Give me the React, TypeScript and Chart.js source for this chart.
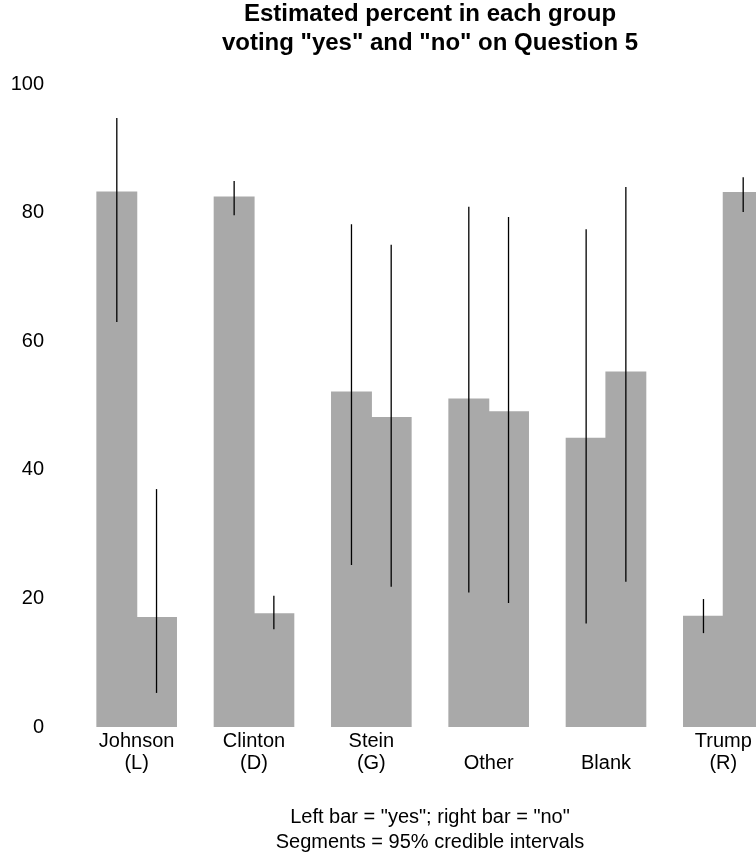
import React, { useEffect, useRef } from "react";
import { Chart, registerables } from "chart.js";

Chart.register(...registerables);

// ---- data ----
const groups: string[][] = [
  ["Johnson", "(L)"],
  ["Clinton", "(D)"],
  ["Stein", "(G)"],
  ["", "Other"],
  ["", "Blank"],
  ["Trump", "(R)"],
];
const yesPct = [83.2, 82.4, 52.1, 51.0, 44.9, 17.2];
const noPct = [17.0, 17.6, 48.1, 49.0, 55.2, 83.1];
const yesLow = [63.0, 79.6, 25.2, 20.9, 16.1, 14.6];
const yesHigh = [94.7, 84.9, 78.2, 80.9, 77.4, 19.9];
const noLow = [5.3, 15.2, 21.8, 19.3, 22.6, 80.1];
const noHigh = [37.0, 20.4, 75.0, 79.3, 84.0, 85.5];
const yTicks = [0, 20, 40, 60, 80, 100];
const titleLines = ["Estimated percent in each group", 'voting "yes" and "no" on Question 5'];
const noteLines = ['Left bar = "yes"; right bar = "no"', "Segments = 95% credible intervals"];

const FONT = '"Liberation Sans", Arial, Helvetica, sans-serif';
const BAR_COLOR = "#A9A9A9";

const intervalPlugin = {
  id: "intervals",
  afterDatasetsDraw(chart: any) {
    const ctx = chart.ctx;
    const ys = chart.scales.y;
    const sets = [
      [yesLow, yesHigh],
      [noLow, noHigh],
    ];
    ctx.save();
    ctx.strokeStyle = "#000";
    ctx.lineWidth = 1.3;
    sets.forEach(([lo, hi], di) => {
      const meta = chart.getDatasetMeta(di);
      meta.data.forEach((bar: any, i: number) => {
        ctx.beginPath();
        ctx.moveTo(bar.x, ys.getPixelForValue(lo[i]));
        ctx.lineTo(bar.x, ys.getPixelForValue(hi[i]));
        ctx.stroke();
      });
    });
    ctx.restore();
  },
};

const textPlugin = {
  id: "texts",
  afterDraw(chart: any) {
    const ctx = chart.ctx;
    const ca = chart.chartArea;
    const cx = (ca.left + ca.right) / 2;
    ctx.save();
    ctx.fillStyle = "#000";
    ctx.textAlign = "center";
    ctx.textBaseline = "alphabetic";
    ctx.font = `bold 24px ${FONT}`;
    ctx.fillText(titleLines[0], cx, 21);
    ctx.fillText(titleLines[1], cx, 50);
    ctx.font = `20px ${FONT}`;
    ctx.fillText(noteLines[0], cx, 823);
    ctx.fillText(noteLines[1], cx, 848);
    ctx.restore();
  },
};

export default function App() {
  const ref = useRef<HTMLCanvasElement | null>(null);

  useEffect(() => {
    if (!ref.current) return;
    const common = {
      backgroundColor: BAR_COLOR,
      borderWidth: 0,
      inflateAmount: 0.6,
      categoryPercentage: 0.677,
      barPercentage: 1,
    };
    const chart = new Chart(ref.current, {
      type: "bar",
      data: {
        labels: groups,
        datasets: [
          { label: "yes", data: yesPct, ...common },
          { label: "no", data: noPct, ...common },
        ],
      },
      options: {
        responsive: false,
        animation: false,
        devicePixelRatio: 1,
        layout: { padding: { top: 84, left: 0, right: 0, bottom: 0 } },
        plugins: {
          legend: { display: false },
          tooltip: { enabled: false },
          title: { display: false },
        },
        scales: {
          x: {
            type: "category",
            offset: true,
            grid: { display: false, drawTicks: false },
            border: { display: false },
            ticks: {
              color: "#000",
              font: { family: FONT, size: 20, lineHeight: 1.1 },
              padding: 3,
              maxRotation: 0,
              minRotation: 0,
              autoSkip: false,
            },
            afterFit: (s: any) => {
              s.height = 125;
            },
          },
          y: {
            min: 0,
            max: 100,
            grid: { display: false, drawTicks: false },
            border: { display: false },
            ticks: {
              color: "#000",
              font: { family: FONT, size: 20 },
              padding: 34,
            },
            afterBuildTicks: (s: any) => {
              s.ticks = yTicks.map((v) => ({ value: v }));
            },
            afterFit: (s: any) => {
              s.width = 78;
            },
          },
        },
      } as any,
      plugins: [intervalPlugin, textPlugin],
    });
    return () => chart.destroy();
  }, []);

  return (
    <div
      style={{
        position: "fixed",
        left: 0,
        top: 0,
        width: 756,
        height: 852,
        overflow: "hidden",
        background: "#fff",
      }}
    >
      <canvas ref={ref} width={782} height={852} style={{ display: "block" }} />
    </div>
  );
}
